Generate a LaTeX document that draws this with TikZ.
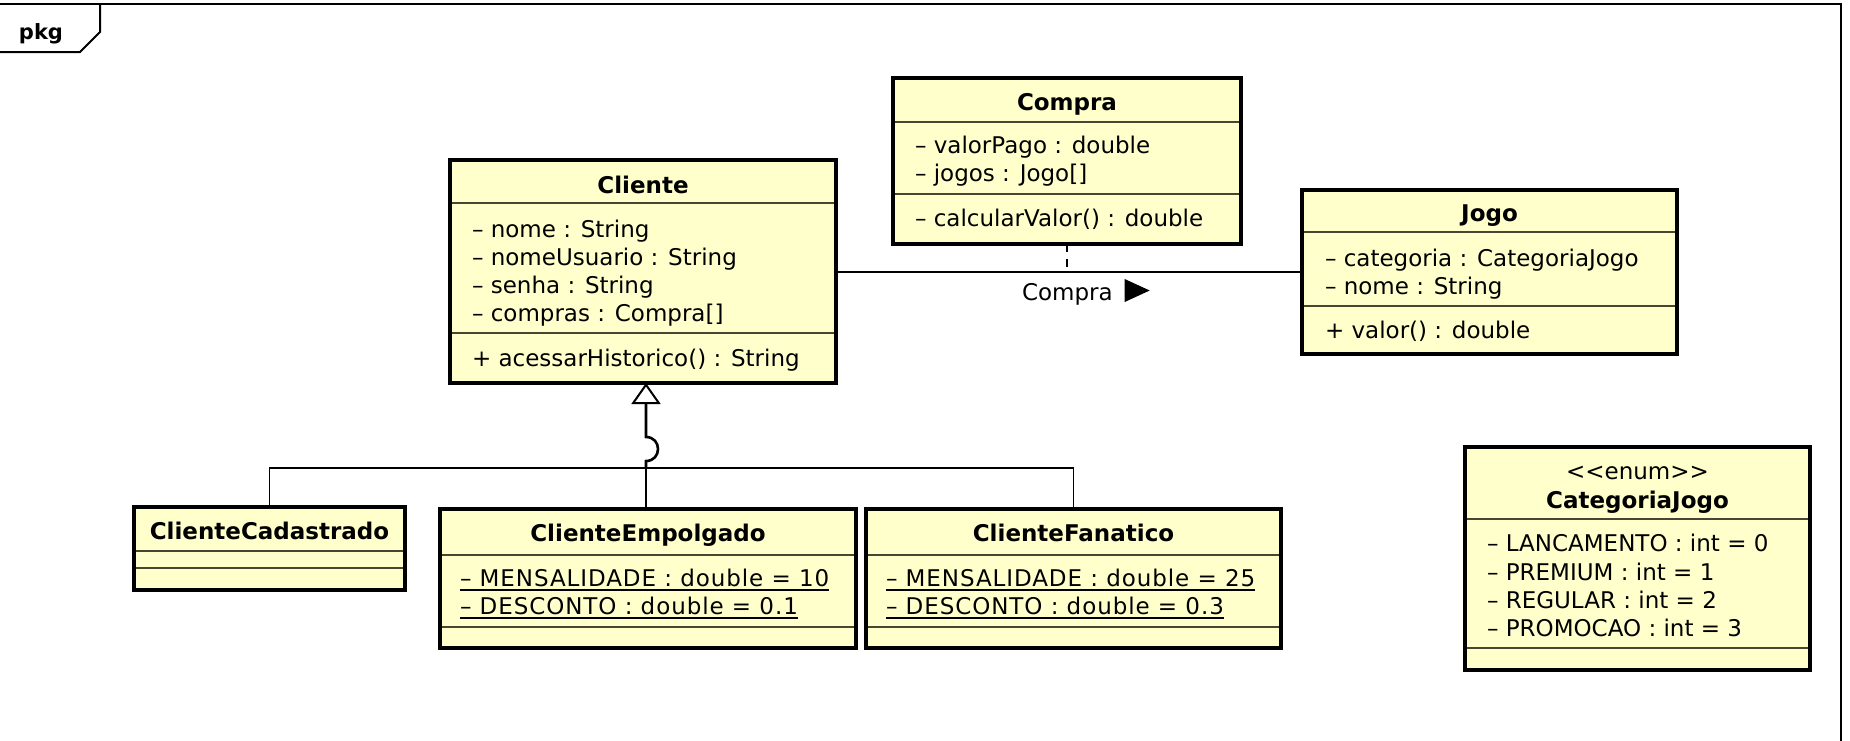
\documentclass[tikz,border=0pt]{standalone}
\usepackage{fontspec}
\setmainfont{DejaVu Sans}
\usetikzlibrary{arrows.meta,calc}
\definecolor{clsfill}{RGB}{255,255,204}
\definecolor{sepc}{RGB}{70,70,50}
\begin{document}
\begin{tikzpicture}[x=1pt,y=-1pt,
  cls/.style={draw=black, line width=3.5pt, fill=clsfill, inner sep=0pt, outer sep=0pt},
  sepl/.style={draw=sepc, line width=1.6pt, shorten <=1.75pt, shorten >=1.75pt},
  txt/.style={inner sep=0pt, outer sep=0pt, anchor=base west, font=\fontsize{23}{28}\selectfont},
  stxt/.style={txt, font=\fontsize{23}{28}\selectfont\addfontfeature{LetterSpace=4}},
  ttl/.style={inner sep=0pt, outer sep=0pt, anchor=base, font=\fontsize{23}{28}\selectfont\bfseries},
  conn/.style={draw=black, line width=1.6pt},
  ul/.style={draw=black, line width=1.4pt}
]
\useasboundingbox (0,0) rectangle (1850,740);
% frame
\draw[line width=2.5pt] (-3,4) -- (1841,4) -- (1841,745);
\draw[line width=2pt] (-3,52) -- (80,52) -- (100,32) -- (100,4);
\node[ttl, font=\fontsize{21}{24}\selectfont\bfseries] (pkg) at (41,39) {pkg};

% Cliente
\node[cls, minimum width=386pt, minimum height=223pt] (cliente) at (643,271.5) {};
\draw[sepl] (cliente.west |- 0,203) -- (cliente.east |- 0,203);
\draw[sepl] (cliente.west |- 0,333) -- (cliente.east |- 0,333);
\node[ttl] (clienteT) at (643,193) {Cliente};
\node[txt] (c1) at (472,237) {– nome : String};
\node[txt] (c2) at (472,265) {– nomeUsuario : String};
\node[txt] (c3) at (472,293) {– senha : String};
\node[txt] (c4) at (472,321) {– compras : Compra[]};
\node[txt] (c5) at (472,366) {+ acessarHistorico() : String};

% Compra
\node[cls, minimum width=348pt, minimum height=166pt] (compra) at (1067,161) {};
\draw[sepl] (compra.west |- 0,122) -- (compra.east |- 0,122);
\draw[sepl] (compra.west |- 0,194) -- (compra.east |- 0,194);
\node[ttl] (compraT) at (1067,110) {Compra};
\node[txt] (m1) at (915,153) {– valorPago : double};
\node[txt] (m2) at (915,181) {– jogos : Jogo[]};
\node[txt] (m3) at (915,226) {– calcularValor() : double};

% Jogo
\node[cls, minimum width=375pt, minimum height=164pt] (jogo) at (1489.5,272) {};
\draw[sepl] (jogo.west |- 0,232) -- (jogo.east |- 0,232);
\draw[sepl] (jogo.west |- 0,306) -- (jogo.east |- 0,306);
\node[ttl] (jogoT) at (1489.5,221) {Jogo};
\node[txt] (j1) at (1325,266) {– categoria : CategoriaJogo};
\node[txt] (j2) at (1325,294) {– nome : String};
\node[txt] (j3) at (1325,338) {+ valor() : double};

% ClienteCadastrado
\node[cls, minimum width=271pt, minimum height=83pt] (cad) at (269.5,548.5) {};
\draw[sepl] (cad.west |- 0,551) -- (cad.east |- 0,551);
\draw[sepl] (cad.west |- 0,568) -- (cad.east |- 0,568);
\node[ttl] (cadT) at (269.5,539) {ClienteCadastrado};

% ClienteEmpolgado
\node[cls, minimum width=416pt, minimum height=139pt] (emp) at (648,578.5) {};
\draw[sepl] (emp.west |- 0,555) -- (emp.east |- 0,555);
\draw[sepl] (emp.west |- 0,627) -- (emp.east |- 0,627);
\node[ttl] (empT) at (648,541) {ClienteEmpolgado};
\node[stxt] (e1) at (460,586) {– MENSALIDADE : double = 10};
\node[stxt] (e2) at (460,614) {– DESCONTO : double = 0.1};
\draw[ul] ([yshift=-4pt]e1.base west) -- ([yshift=-4pt]e1.base east);
\draw[ul] ([yshift=-4pt]e2.base west) -- ([yshift=-4pt]e2.base east);

% ClienteFanatico
\node[cls, minimum width=415pt, minimum height=139pt] (fan) at (1073.5,578.5) {};
\draw[sepl] (fan.west |- 0,555) -- (fan.east |- 0,555);
\draw[sepl] (fan.west |- 0,627) -- (fan.east |- 0,627);
\node[ttl] (fanT) at (1073.5,541) {ClienteFanatico};
\node[stxt] (f1) at (886,586) {– MENSALIDADE : double = 25};
\node[stxt] (f2) at (886,614) {– DESCONTO : double = 0.3};
\draw[ul] ([yshift=-4pt]f1.base west) -- ([yshift=-4pt]f1.base east);
\draw[ul] ([yshift=-4pt]f2.base west) -- ([yshift=-4pt]f2.base east);

% CategoriaJogo
\node[cls, minimum width=345pt, minimum height=223pt] (cat) at (1637.5,558.5) {};
\draw[sepl] (cat.west |- 0,519) -- (cat.east |- 0,519);
\draw[sepl] (cat.west |- 0,648) -- (cat.east |- 0,648);
\node[txt, anchor=base] (catS) at (1637.5,479) {<{}<enum>{}>};
\node[ttl] (catT) at (1637.5,508) {CategoriaJogo};
\node[txt] (k1) at (1487,551) {– LANCAMENTO : int = 0};
\node[txt] (k2) at (1487,580) {– PREMIUM : int = 1};
\node[txt] (k3) at (1487,608) {– REGULAR : int = 2};
\node[txt] (k4) at (1487,636) {– PROMOCAO : int = 3};

% association Cliente - Jogo
\draw[conn] (jogo.west -| cliente.east) -- (jogo.west);
\draw[conn, dash pattern=on 8pt off 7pt] (compra.south) -- (compra.south |- jogo.west);
\node[txt] (lbl) at (1022,300) {Compra};
\fill ($(lbl.base east)+(12,-21)$) -- ++(0,23) -- ++(25,-11.5) -- cycle;

% generalization
\coordinate (gj) at (646,468);
\draw[conn] (cad.north) |- (gj) -| (fan.north);
\draw[conn] (emp.north -| gj) -- (gj);
\draw[line width=2.6pt, -{Triangle[length=21pt, width=29pt, fill=white, line width=2pt]}]
  (gj) -- (646,461) .. controls (662,461) and (662,437) .. (646,437) -- (cliente.south -| gj);
\end{tikzpicture}
\end{document}
